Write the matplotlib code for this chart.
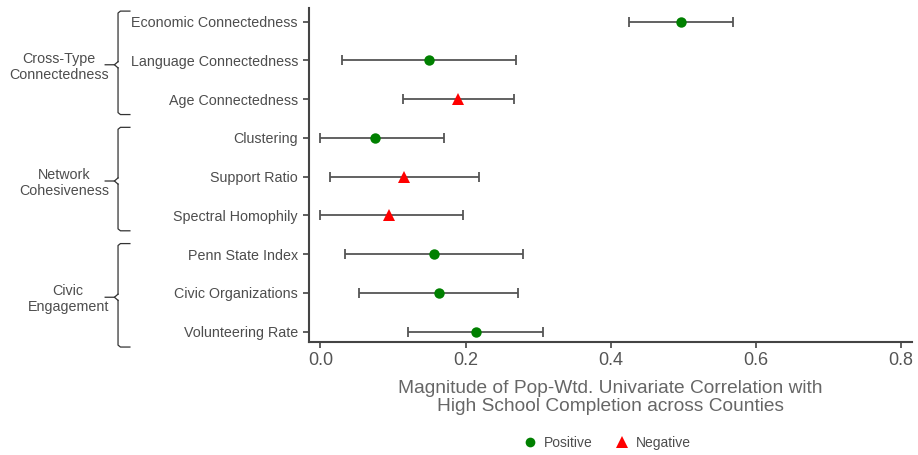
import numpy as np
import matplotlib
matplotlib.use("Agg")
import matplotlib.pyplot as plt
from matplotlib.lines import Line2D

plt.rcParams['font.family'] = ['Liberation Sans', 'DejaVu Sans']

# --- Data ---
measures = [
    "Economic Connectedness", "Language Connectedness", "Age Connectedness",
    "Clustering", "Support Ratio", "Spectral Homophily",
    "Penn State Index", "Civic Organizations", "Volunteering Rate",
]
estimate = [0.497, 0.150, 0.190, 0.075, 0.115, 0.094, 0.156, 0.163, 0.214]
ci_low = [0.425, 0.029, 0.114, 0.000, 0.013, 0.000, 0.034, 0.053, 0.121]
ci_high = [0.568, 0.270, 0.267, 0.170, 0.218, 0.196, 0.279, 0.272, 0.307]
sign = ["Positive", "Positive", "Negative", "Positive", "Negative", "Negative",
        "Positive", "Positive", "Positive"]

groups = ["Cross-Type\nConnectedness", "Network\nCohesiveness", "Civic\nEngagement"]
group_rows = [(0, 2), (3, 5), (6, 8)]

styles = {"Positive": dict(marker="o", color="#008000", ms=7.5),
          "Negative": dict(marker="^", color="#ff0000", ms=8.5)}

fig = plt.figure(figsize=(9.18, 4.55), dpi=100)
ax = fig.add_axes([309 / 918, 1 - 342 / 455, 603 / 918, 334 / 455])

ypos = np.arange(len(measures))
est = np.array(estimate)
lo = np.array(ci_low)
hi = np.array(ci_high)

ax.errorbar(est, ypos, xerr=[est - lo, hi - est], fmt="none", ecolor="#555555",
            elinewidth=1.3, capsize=3.5, capthick=1.3, zorder=2)
for s, st in styles.items():
    idx = [i for i, v in enumerate(sign) if v == s]
    ax.plot(est[idx], ypos[idx], linestyle="none", marker=st["marker"],
            color=st["color"], markersize=st["ms"], markeredgewidth=0, zorder=3)

ax.set_xlim(-0.0158, 0.815)
ax.set_ylim(8.27, -0.35)
ax.set_yticks(ypos)
ax.set_yticklabels(measures, fontsize=10.3, color="#4d4d4d")
ax.set_xticks([0.0, 0.2, 0.4, 0.6, 0.8])
ax.set_xticklabels(["0.0", "0.2", "0.4", "0.6", "0.8"], fontsize=13, color="#555555")
ax.tick_params(axis="both", length=4, width=1.2, color="#444444")
ax.tick_params(axis="y", pad=4)
ax.tick_params(axis="x", pad=3)
for side in ["top", "right"]:
    ax.spines[side].set_visible(False)
for side in ["left", "bottom"]:
    ax.spines[side].set_color("#444444")
    ax.spines[side].set_linewidth(1.5)

ax.set_xlabel("Magnitude of Pop-Wtd. Univariate Correlation with\nHigh School Completion across Counties",
              fontsize=13.8, color="#666666", labelpad=8, linespacing=1.12)

# group braces on the left
trans = ax.get_yaxis_transform()
x_v, x_hook, x_tip = -0.3167, -0.297, -0.338
for label, (r0, r1) in zip(groups, group_rows):
    top, bot = r0 - 0.27, r1 + 0.4
    mid = (top + bot) / 2 + 0.05
    ax.plot([x_hook, x_v + 0.004, x_v, x_v], [top, top, top + 0.05, mid - 0.08],
            transform=trans, clip_on=False, color="#333333", lw=0.9)
    ax.plot([x_v, x_v, x_v + 0.004, x_hook], [mid + 0.08, bot - 0.05, bot, bot],
            transform=trans, clip_on=False, color="#333333", lw=0.9)
    ax.plot([x_v, x_v - 0.006, x_tip], [mid - 0.08, mid, mid],
            transform=trans, clip_on=False, color="#333333", lw=0.9)
    ax.plot([x_v, x_v - 0.006], [mid + 0.08, mid],
            transform=trans, clip_on=False, color="#333333", lw=0.9)
    ax.text(-0.332, mid + 0.05, label, transform=trans, ha="right", va="center",
            multialignment="center", fontsize=10.3, color="#4d4d4d")

handles = [Line2D([], [], linestyle="none", marker=styles[s]["marker"],
                  color=styles[s]["color"], markersize=styles[s]["ms"] - 0.5,
                  markeredgewidth=0, label=s) for s in ["Positive", "Negative"]]
fig.legend(handles=handles, loc="center", bbox_to_anchor=(0.661, 0.026), ncol=2,
           frameon=False, fontsize=10, handletextpad=0.5, columnspacing=1.6,
           handlelength=1.0, labelcolor="#4d4d4d")

fig.savefig("out.png", dpi=100)
